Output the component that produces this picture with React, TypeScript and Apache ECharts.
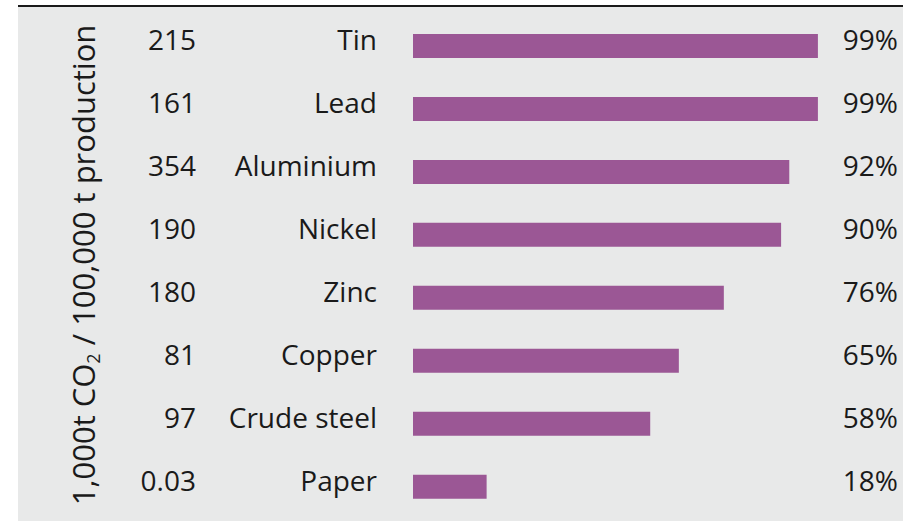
import React, { useEffect, useRef } from "react";
import * as echarts from "echarts";

const categories = ["Tin", "Lead", "Aluminium", "Nickel", "Zinc", "Copper", "Crude steel", "Paper"];
const shares = [99, 99, 92, 90, 76, 65, 58, 18];
const co2Values = ["215", "161", "354", "190", "180", "81", "97", "0.03"];
const axisTitleMain = "1,000t CO";
const axisTitleSub = "2";
const axisTitleRest = " / 100,000 t production";

const FONT = "'Open Sans', 'DejaVu Sans', sans-serif";
const TEXT = "#1a1a1a";
const BAR = "#9b5795";
const BG = "#e8e9e9";

export default function App() {
  const ref = useRef<HTMLDivElement>(null);
  useEffect(() => {
    if (!ref.current) return;
    const chart = echarts.init(ref.current, undefined, { renderer: "svg" });
    const labelBase = {
      fontSize: 28,
      fontFamily: FONT,
      color: TEXT,
    };
    const hidden = {
      axisLine: { show: false },
      axisTick: { show: false },
      splitLine: { show: false },
    };
    chart.setOption({
      animation: false,
      backgroundColor: BG,
      grid: [
        { left: 413, top: 14.5, width: 409, height: 503.7, containLabel: false },
        { left: 413, top: 8, width: 409, height: 503.7, containLabel: false },
      ],
      xAxis: [
        { type: "value", min: 0, max: 100, show: false, gridIndex: 0 },
        { type: "value", min: 0, max: 100, show: false, gridIndex: 1 },
      ],
      yAxis: [
        {
          type: "category",
          gridIndex: 0,
          data: categories,
          inverse: true,
          ...hidden,
          axisLabel: { show: false },
        },
        {
          type: "category",
          gridIndex: 1,
          data: categories,
          inverse: true,
          position: "left",
          ...hidden,
          axisLabel: { ...labelBase, margin: 36 },
        },
        {
          type: "category",
          gridIndex: 1,
          data: categories,
          inverse: true,
          position: "left",
          ...hidden,
          axisLabel: {
            ...labelBase,
            margin: 217,
            formatter: (_v: string, i: number) => co2Values[i],
          },
        },
        {
          type: "category",
          gridIndex: 1,
          data: categories,
          inverse: true,
          position: "right",
          ...hidden,
          axisLabel: {
            ...labelBase,
            margin: 76,
            align: "right",
            formatter: (_v: string, i: number) => shares[i] + "%",
          },
        },
      ],
      series: [
        {
          type: "bar",
          xAxisIndex: 0,
          yAxisIndex: 0,
          data: shares,
          barWidth: 24,
          itemStyle: { color: BAR },
          silent: true,
        },
      ],
      graphic: [
        { type: "rect", shape: { x: 0, y: 0, width: 18, height: 521 }, style: { fill: "#ffffff" } },
        { type: "rect", shape: { x: 0, y: 0, width: 912, height: 5 }, style: { fill: "#ffffff" } },
        { type: "rect", shape: { x: 903, y: 0, width: 9, height: 521 }, style: { fill: "#ffffff" } },
        { type: "line", shape: { x1: 18, y1: 6, x2: 903, y2: 6 }, style: { stroke: "#1a1a1a", lineWidth: 2 } },
        {
          type: "text",
          x: 83,
          y: 265,
          rotation: Math.PI / 2,
          style: {
            text: `{a|${axisTitleMain}}{s|${axisTitleSub}}{a|${axisTitleRest}}`,
            align: "center",
            verticalAlign: "middle",
            rich: {
              a: { fontSize: 31, fontFamily: FONT, fill: TEXT, lineHeight: 38, verticalAlign: "middle" },
              s: { fontSize: 18, fontFamily: FONT, fill: TEXT, lineHeight: 18, verticalAlign: "bottom" },
            },
          },
        },
      ],
    });
    return () => chart.dispose();
  }, []);
  return (
    <div
      ref={ref}
      style={{ position: "fixed", left: 0, top: 0, width: 912, height: 521 }}
    />
  );
}
